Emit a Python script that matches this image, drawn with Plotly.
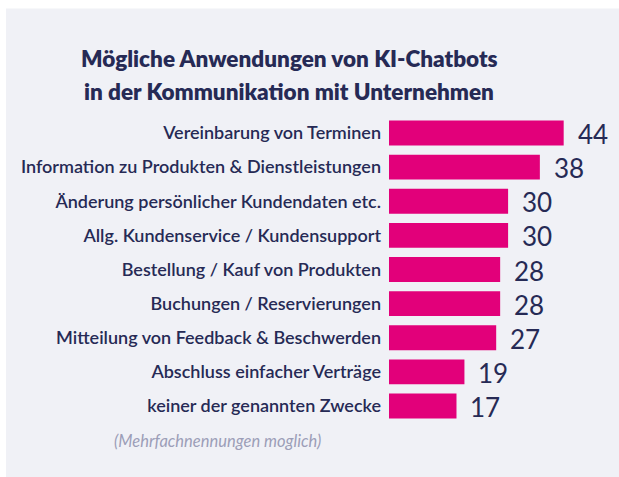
import plotly.graph_objects as go

categories = [
    "Vereinbarung von Terminen",
    "Information zu Produkten & Dienstleistungen",
    "Änderung persönlicher Kundendaten etc.",
    "Allg. Kundenservice / Kundensupport",
    "Bestellung / Kauf von Produkten",
    "Buchungen / Reservierungen",
    "Mitteilung von Feedback & Beschwerden",
    "Abschluss einfacher Verträge",
    "keiner der genannten Zwecke",
]
values = [44, 38, 30, 30, 28, 28, 27, 19, 17]
title_lines = ["Mögliche Anwendungen von KI-Chatbots", "in der Kommunikation mit Unternehmen"]
footnote_text = "(Mehrfachnennungen moglich)"

W, H = 619, 477
ML, MR = 389, 10
MT, MB = 116.4, 53.6
PW = W - ML - MR
PH = H - MT - MB
PX_PER_UNIT = 3.97

NAVY = "#262a55"
PINK = "#e2007a"
PANEL = "#f0f1f6"
FONT = "Lato"


def px_to_paper_x(px):
    return (px - ML) / PW


def px_to_paper_y(py):
    return (H - MB - py) / PH


fig = go.Figure()
fig.add_trace(go.Bar(
    x=values,
    y=categories,
    orientation="h",
    marker=dict(color=PINK, line=dict(width=0)),
    width=0.73,
    hoverinfo="skip",
))

annotations = []
for c, v in zip(categories, values):
    annotations.append(dict(
        x=v, y=c, xref="x", yref="y", text=str(v), showarrow=False,
        xanchor="left", yanchor="middle", xshift=12, yshift=-1,
        font=dict(family=FONT, size=26, color=NAVY),
    ))

for line, cy in zip(title_lines, [59, 91.5]):
    annotations.append(dict(
        x=px_to_paper_x(289), y=px_to_paper_y(cy), xref="paper", yref="paper",
        text=line, showarrow=False, xanchor="center", yanchor="middle",
        font=dict(family=FONT, size=22.5, color=NAVY, weight=800),
    ))

annotations.append(dict(
    x=px_to_paper_x(323), y=px_to_paper_y(441), xref="paper", yref="paper",
    text="<i>" + footnote_text + "</i>", showarrow=False,
    xanchor="right", yanchor="middle",
    font=dict(family=FONT, size=16.5, color="#9c9eb8"),
))

fig.update_layout(
    width=W, height=H,
    margin=dict(l=ML, r=MR, t=MT, b=MB, pad=0),
    paper_bgcolor="white",
    plot_bgcolor="rgba(0,0,0,0)",
    showlegend=False,
    xaxis=dict(range=[0, PW / PX_PER_UNIT], visible=False, fixedrange=True),
    yaxis=dict(
        range=[8.5, -0.5], autorange=False,
        showgrid=False, zeroline=False, showline=False, ticks="",
        ticklabelstandoff=7,
        tickfont=dict(family=FONT, size=18, color=NAVY, weight=600),
        fixedrange=True,
    ),
    shapes=[dict(
        type="rect", xref="paper", yref="paper",
        x0=px_to_paper_x(6), x1=px_to_paper_x(W + 2),
        y0=px_to_paper_y(H + 2), y1=px_to_paper_y(9),
        fillcolor=PANEL, line=dict(width=0), layer="below",
    )],
    annotations=annotations,
)

fig.write_html(
    "out.html",
    config={"displayModeBar": False},
    post_script="document.body.style.margin='0';document.body.style.overflow='hidden';",
)
